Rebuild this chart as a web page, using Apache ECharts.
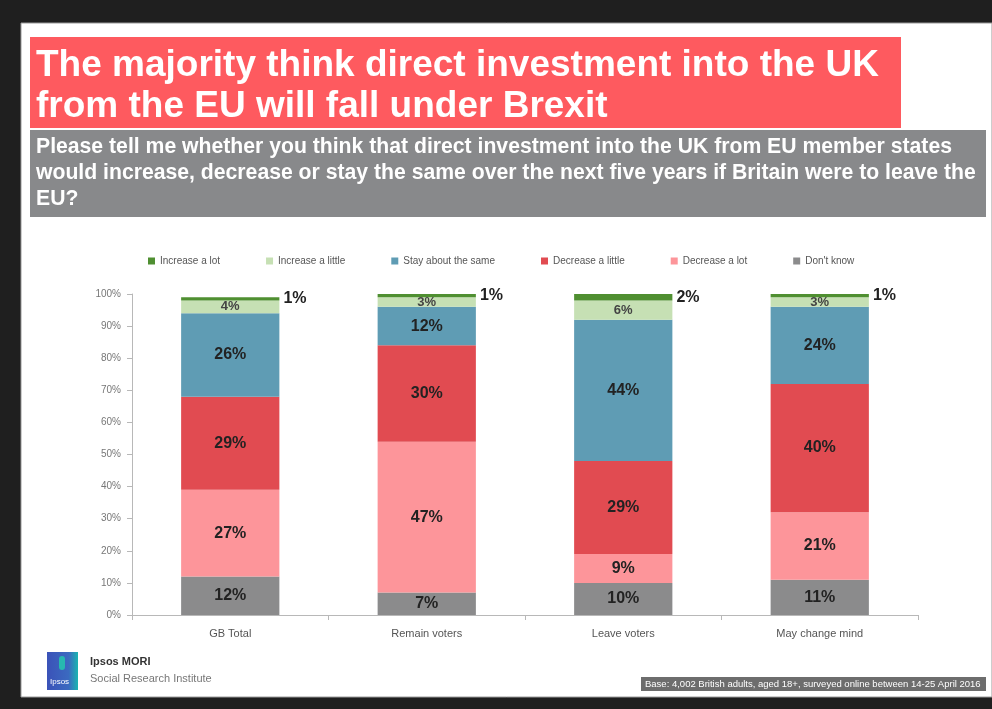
<!DOCTYPE html>
<html>
<head>
<meta charset="utf-8">
<script src="https://cdn.jsdelivr.net/npm/echarts@6/dist/echarts.min.js"></script>
<style>
  html, body { margin: 0; padding: 0; background: #1f1f1f; }
  #chart { width: 992px; height: 709px; }
</style>
</head>
<body>
<div id="chart"></div>
<script>
// Survey groups along the x axis
const categories = ['GB Total', 'Remain voters', 'Leave voters', 'May change mind'];

// Share of respondents (%) per answer, one array per answer
const dontKnow        = [12, 7, 10, 11];
const decreaseALot    = [27, 47, 9, 21];
const decreaseALittle = [29, 30, 29, 40];
const stayTheSame     = [26, 12, 44, 24];
const increaseALittle = [4, 3, 6, 3];
const increaseALot    = [1, 1, 2, 1];

const yTicks = [0, 10, 20, 30, 40, 50, 60, 70, 80, 90, 100];

const legendOrder = ['Increase a lot', 'Increase a little', 'Stay about the same',
                     'Decrease a little', 'Decrease a lot', "Don't know"];

const titleText = 'The majority think direct investment into the UK\nfrom the EU will fall under Brexit';
const questionText = 'Please tell me whether you think that direct investment into the UK from EU member states\nwould increase, decrease or stay the same over the next five years if Britain were to leave the\nEU?';
const baseText = 'Base: 4,002 British adults, aged 18+, surveyed online between 14-25 April 2016';

const FONT = '"Liberation Sans", Arial, sans-serif';
const NARROW = '"Liberation Sans Narrow", ' + FONT;

function segment(name, data, color, label) {
  return {
    name, type: 'bar', stack: 'total', data,
    barWidth: '50%',
    itemStyle: { color },
    label: Object.assign({
      show: true, formatter: '{c}%', fontFamily: FONT, fontWeight: 'bold',
      fontSize: 16, color: '#222', position: 'inside'
    }, label || {})
  };
}

const chart = echarts.init(document.getElementById('chart'), null, { renderer: 'canvas' });

chart.setOption({
  backgroundColor: '#1f1f1f',
  animation: false,
  textStyle: { fontFamily: FONT },
  grid: { left: 132, right: 74, top: 294, bottom: 94 },
  legend: {
    data: legendOrder,
    top: 251, left: 143,
    itemGap: 46, itemWidth: 7, itemHeight: 7,
    icon: 'rect',
    textStyle: { fontSize: 10, color: '#555', fontFamily: FONT }
  },
  xAxis: {
    type: 'category', data: categories,
    axisLine: { lineStyle: { color: '#b8b8b8' } },
    axisTick: { show: true, length: 5, lineStyle: { color: '#b8b8b8' } },
    axisLabel: { fontSize: 11, color: '#555', margin: 13 }
  },
  yAxis: {
    type: 'value', min: yTicks[0], max: yTicks[yTicks.length - 1], interval: 10,
    axisLine: { show: true, lineStyle: { color: '#b8b8b8' } },
    axisTick: { show: true, length: 5, lineStyle: { color: '#b8b8b8' } },
    splitLine: { show: false },
    axisLabel: { formatter: '{value}%', fontSize: 10, color: '#777', margin: 11 }
  },
  series: [
    segment("Don't know", dontKnow, '#8b8b8c'),
    segment('Decrease a lot', decreaseALot, '#fd959a'),
    segment('Decrease a little', decreaseALittle, '#e14b51'),
    segment('Stay about the same', stayTheSame, '#5f9cb4'),
    segment('Increase a little', increaseALittle, '#c6e0b4', { fontSize: 13, color: '#444' }),
    segment('Increase a lot', increaseALot, '#4f8f31', { position: 'right', distance: 4, fontSize: 16 })
  ],
  graphic: [
    // white slide area inside the dark frame
    { type: 'rect', z: -10, shape: { x: 21, y: 23, width: 971, height: 674 },
      style: { fill: '#ffffff', stroke: '#9a9a9a', lineWidth: 1 } },
    // headline band
    { type: 'rect', z: 1, shape: { x: 30, y: 37, width: 871, height: 91 }, style: { fill: '#fe5a5f' } },
    { type: 'text', z: 2, left: 36, top: 45,
      style: { text: titleText, fill: '#ffffff', font: 'bold 37px ' + FONT, lineHeight: 41 } },
    // question band
    { type: 'rect', z: 1, shape: { x: 30, y: 130, width: 956, height: 87 }, style: { fill: '#88898b' } },
    { type: 'text', z: 2, left: 36, top: 134,
      style: { text: questionText, fill: '#ffffff', font: 'bold 21.2px ' + FONT, lineHeight: 26 } },
    // Ipsos logo
    { type: 'rect', z: 1, shape: { x: 47, y: 652, width: 31, height: 38 },
      style: { fill: new echarts.graphic.LinearGradient(0, 0, 1, 0, [
        { offset: 0, color: '#3b52b8' }, { offset: 0.7, color: '#3b6ac0' }, { offset: 1, color: '#19b5b0' }]) } },
    { type: 'rect', z: 2, shape: { x: 59, y: 656, width: 6, height: 14, r: 3 }, style: { fill: '#27b8b0' } },
    { type: 'text', z: 2, left: 50, top: 678,
      style: { text: 'Ipsos', fill: '#ffffff', font: '8px ' + FONT } },
    { type: 'text', z: 2, left: 90, top: 656,
      style: { text: 'Ipsos MORI', fill: '#333333', font: 'bold 11px ' + NARROW } },
    { type: 'text', z: 2, left: 90, top: 673,
      style: { text: 'Social Research Institute', fill: '#777777', font: '11px ' + NARROW } },
    // base note
    { type: 'rect', z: 1, shape: { x: 641, y: 677, width: 345, height: 14 }, style: { fill: '#6d6d6d' } },
    { type: 'text', z: 2, left: 645, top: 679,
      style: { text: baseText, fill: '#ffffff', font: '9.5px ' + NARROW } }
  ]
});
</script>
</body>
</html>
